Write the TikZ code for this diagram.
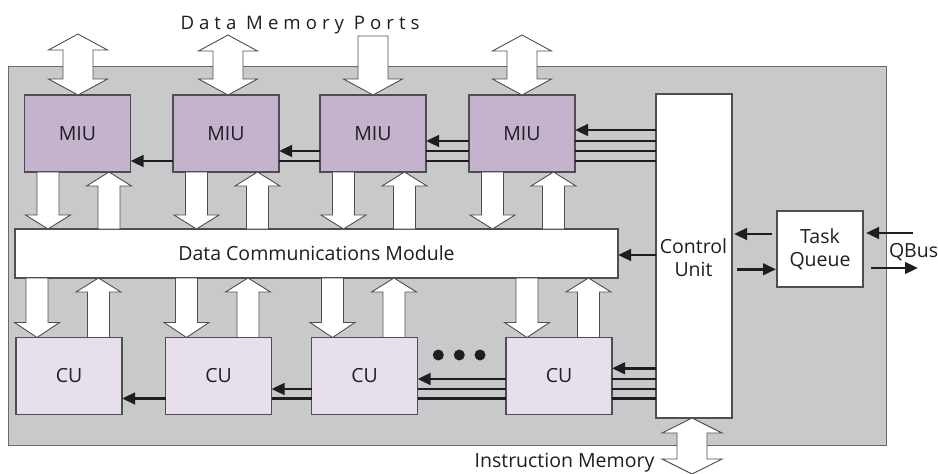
\documentclass[tikz,border=0pt]{standalone}
\usepackage{fontspec}
\setmainfont{Open Sans}
\usetikzlibrary{arrows.meta,calc}

\definecolor{boardc}{RGB}{200,201,203}
\definecolor{boardedge}{RGB}{105,106,108}
\definecolor{miuc}{RGB}{197,179,206}
\definecolor{cuc}{RGB}{231,224,236}
\definecolor{edgec}{RGB}{78,78,80}
\definecolor{inkc}{RGB}{30,30,32}

% single fat arrow: start, end, shaft half width, head half width, head length
\newcommand\fatone[5]{%
  \path (#1) coordinate (fa-s) (#2) coordinate (fa-e);
  \path ($(fa-e)!#5!(fa-s)$) coordinate (fa-h);
  \filldraw[fat] ($(fa-s)!#3!90:(fa-e)$) -- ($(fa-h)!#3!90:(fa-e)$)
    -- ($(fa-h)!#4!90:(fa-e)$) -- (fa-e) -- ($(fa-h)!#4!-90:(fa-e)$)
    -- ($(fa-h)!#3!-90:(fa-e)$) -- ($(fa-s)!#3!-90:(fa-e)$) -- cycle;
}
% double fat arrow with the same arguments
\newcommand\fattwo[5]{%
  \path (#1) coordinate (fa-s) (#2) coordinate (fa-e);
  \path ($(fa-e)!#5!(fa-s)$) coordinate (fa-h) ($(fa-s)!#5!(fa-e)$) coordinate (fa-g);
  \filldraw[fat] (fa-e) -- ($(fa-h)!#4!90:(fa-e)$) -- ($(fa-h)!#3!90:(fa-e)$)
    -- ($(fa-g)!#3!90:(fa-e)$) -- ($(fa-g)!#4!90:(fa-e)$) -- (fa-s)
    -- ($(fa-g)!#4!-90:(fa-e)$) -- ($(fa-g)!#3!-90:(fa-e)$)
    -- ($(fa-h)!#3!-90:(fa-e)$) -- ($(fa-h)!#4!-90:(fa-e)$) -- cycle;
}

\tikzset{
  lbl/.style={font=\fontsize{19.5}{23}\selectfont, text=inkc, inner sep=0pt, outer sep=0pt},
  box/.style={draw=edgec, line width=1.1pt, inner sep=0pt, outer sep=0pt, lbl},
  miubox/.style={box, fill=miuc, minimum width=106pt, minimum height=77pt},
  cubox/.style={box, fill=cuc, minimum width=106pt, minimum height=77pt},
  whitebox/.style={box, fill=white},
  fat/.style={fill=white, draw=edgec, line width=0.9pt, line join=miter},
  bus/.style={draw=inkc, line width=2.7pt},
  tip/.style={bus, -{Triangle[length=13pt,width=11.5pt]}},
  dot/.style={circle, fill=inkc, minimum size=11pt, inner sep=0pt},
}

\begin{document}
\begin{tikzpicture}[x=1pt,y=-1pt]
\useasboundingbox (0,0) rectangle (938,474);

% processor board
\node[draw=boardedge, fill=boardc, line width=1.3pt, inner sep=0pt,
      minimum width=878.5pt, minimum height=378.5pt] (board) at (447.5,256) {};

% memory interface units
\node[miubox] (m1) at (77.5,133.5) {MIU};
\node[miubox] (m2) at (226,133.5) {MIU};
\node[miubox] (m3) at (373,133.5) {MIU};
\node[miubox] (m4) at (522,133.5) {MIU};

% compute units
\node[cubox] (c1) at (69,376) {CU};
\node[cubox] (c2) at (218.5,376) {CU};
\node[cubox] (c3) at (364.5,376) {CU};
\node[cubox] (c4) at (559,376) {CU};

% data communications module, control unit, task queue
\node[whitebox, minimum width=603pt, minimum height=49pt] (dcm) at (316.5,253.5)
  {Data Communications Module};
\node[whitebox, minimum width=76pt, minimum height=324pt] (ctrl) at (694,256) {};
\node[lbl, align=center] (ctrltxt) at (693.5,258) {Control\\Unit};
\node[whitebox, align=center, minimum width=86pt, minimum height=76pt] (tq) at (820,249)
  {Task\\Queue};

% more compute units
\node[dot] (d1) at (438.3,355) {};
\node[dot] (d2) at (459.3,355) {};
\node[dot] (d3) at (480,355) {};

% data memory ports
\coordinate (p1) at (78,34);
\coordinate (p2) at (228,35);
\coordinate (p3) at (373,36);
\coordinate (p4) at (522,35);
\fattwo{p1}{p1 |- m1.north}{15pt}{29.5pt}{16pt}
\fattwo{p2}{p2 |- m2.north}{15pt}{29.5pt}{16pt}
\fatone{p3}{p3 |- m3.north}{15pt}{29.5pt}{16pt}
\fattwo{p4}{p4 |- m4.north}{15pt}{29.5pt}{16pt}

% instruction memory port
\coordinate (im) at (692,474);
\fattwo{im}{im |- ctrl.south}{15pt}{30pt}{15pt}

% MIU <-> DCM and DCM <-> CU transfers
\foreach \i in {1,...,4} {
  \coordinate (md\i) at ([xshift=-29.5pt]m\i.south);
  \coordinate (mu\i) at ([xshift=31.5pt]m\i.south);
  \coordinate (cd\i) at ([xshift=-32pt]c\i.north);
  \coordinate (cu\i) at ([xshift=29.5pt]c\i.north);
  \fatone{md\i}{md\i |- dcm.north}{11pt}{22.5pt}{14pt}
  \fatone{mu\i |- dcm.north}{mu\i}{11pt}{22.5pt}{14pt}
  \fatone{cd\i |- dcm.south}{cd\i}{11pt}{22.5pt}{15pt}
  \fatone{cu\i}{cu\i |- dcm.south}{11pt}{22.5pt}{14pt}
}

% control bus to the MIU row
\coordinate (ya) at (0,130);
\coordinate (yb) at (0,141);
\coordinate (yc) at (0,151);
\coordinate (yd) at (0,161);
\draw[tip] (ctrl.west |- ya) -- (m4.east |- ya);
\draw[bus] (ctrl.west |- yb) -- (m4.east |- yb);
\draw[bus] (ctrl.west |- yc) -- (m4.east |- yc);
\draw[bus] (ctrl.west |- yd) -- (m4.east |- yd);
\draw[tip] (m4.west |- yb) -- (m3.east |- yb);
\draw[bus] (m4.west |- yc) -- (m3.east |- yc);
\draw[bus] (m4.west |- yd) -- (m3.east |- yd);
\draw[tip] (m3.west |- yc) -- (m2.east |- yc);
\draw[bus] (m3.west |- yd) -- (m2.east |- yd);
\draw[tip] (m2.west |- yd) -- (m1.east |- yd);

% control bus to the CU row
\coordinate (za) at (0,368.3);
\coordinate (zb) at (0,379);
\coordinate (zc) at (0,389);
\coordinate (zd) at (0,398.5);
\draw[tip] (ctrl.west |- za) -- (c4.east |- za);
\draw[bus] (ctrl.west |- zb) -- (c4.east |- zb);
\draw[bus] (ctrl.west |- zc) -- (c4.east |- zc);
\draw[bus] (ctrl.west |- zd) -- (c4.east |- zd);
\draw[tip] (c4.west |- zb) -- (c3.east |- zb);
\draw[bus] (c4.west |- zc) -- (c3.east |- zc);
\draw[bus] (c4.west |- zd) -- (c3.east |- zd);
\draw[tip] (c3.west |- zc) -- (c2.east |- zc);
\draw[bus] (c3.west |- zd) -- (c2.east |- zd);
\draw[tip] (c2.west |- zd) -- (c1.east |- zd);

% control unit to DCM
\coordinate (yk) at (0,255);
\draw[tip] (ctrl.west |- yk) -- (dcm.east |- yk);

% task queue links
\coordinate (qa) at (0,234);
\coordinate (qb) at (0,269.3);
\draw[tip] ($(tq.west |- qa)+(-5,0)$) -- ($(ctrl.east |- qa)+(2,0)$);
\draw[tip] ($(ctrl.east |- qb)+(5,0)$) -- ($(tq.west |- qb)+(-1,0)$);
\coordinate (qin) at (913,233);
\coordinate (qout) at (918,268);
\draw[tip] (qin) -- ($(tq.east |- qin)+(3,0)$);
\draw[tip] ($(tq.east |- qout)+(8,0)$) -- (qout);

% labels
\node[lbl, font=\fontsize{18.6}{22}\selectfont, anchor=base] (dmp) at (300,29.3)
  {\addfontfeature{LetterSpace=27}Data Memory Ports};
\node[lbl, anchor=base] (imt) at (564.5,467) {Instruction Memory};
\node[lbl, anchor=base west] (qbus) at (889,257) {QBus};
\end{tikzpicture}
\end{document}
